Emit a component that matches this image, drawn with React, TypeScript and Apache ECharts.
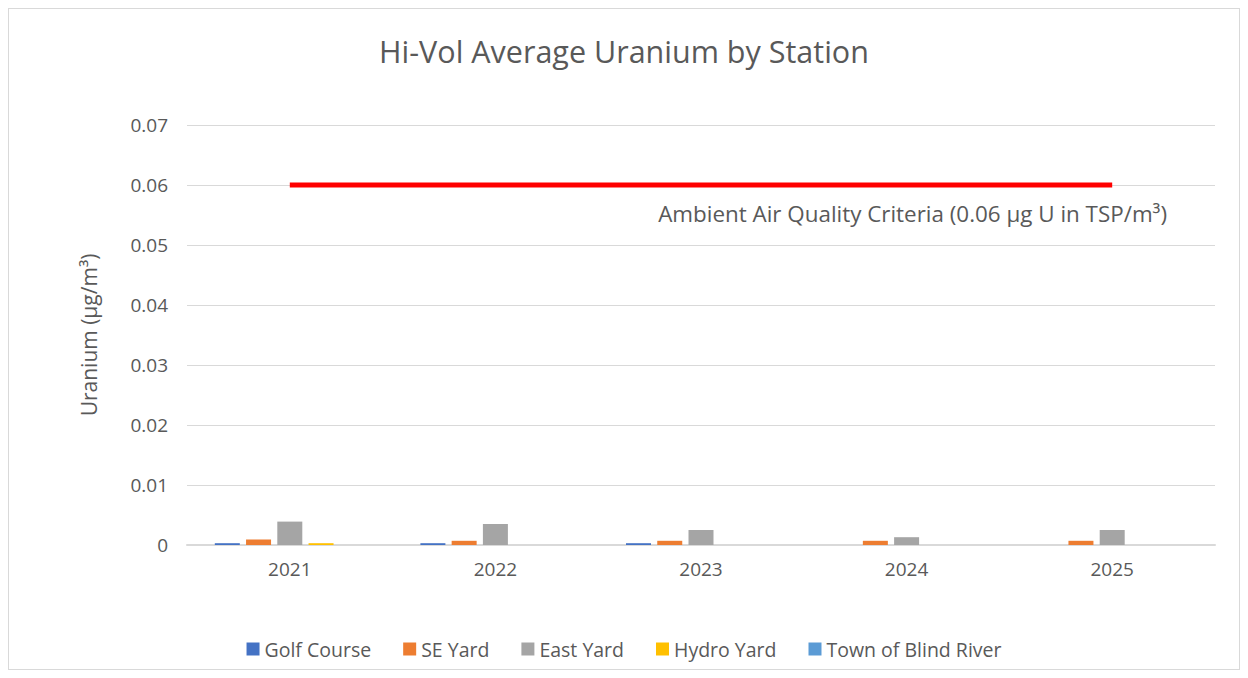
import React, { useEffect, useRef } from "react";
import * as echarts from "echarts";

const years = ["2021", "2022", "2023", "2024", "2025"];
const golfCourse = [0.0003, 0.0003, 0.0003, 0, 0];
const seYard = [0.0009, 0.0007, 0.0007, 0.0007, 0.0007];
const eastYard = [0.0039, 0.0035, 0.0025, 0.0013, 0.0025];
const hydroYard = [0.0003, 0, 0, 0, 0];
const townBlindRiver = [0, 0, 0, 0, 0];
const criteria = [0.06, 0.06, 0.06, 0.06, 0.06];
const yTicks = { min: 0, max: 0.07, interval: 0.01 };

const seriesDefs = [
  { name: "Golf Course", data: golfCourse, color: "#4472C4" },
  { name: "SE Yard", data: seYard, color: "#ED7D31" },
  { name: "East Yard", data: eastYard, color: "#A5A5A5" },
  { name: "Hydro Yard", data: hydroYard, color: "#FFC000" },
  { name: "Town of Blind River", data: townBlindRiver, color: "#5B9BD5" },
];

const FONT = "'Open Sans', Lato, sans-serif";
const TXT = "#595959";

export default function App() {
  const ref = useRef<HTMLDivElement>(null);
  useEffect(() => {
    if (!ref.current) return;
    const chart = echarts.init(ref.current, undefined, { renderer: "svg" });
    chart.setOption({
      animation: false,
      backgroundColor: "#ffffff",
      textStyle: { fontFamily: FONT },
      title: {
        text: "Hi-Vol Average Uranium by Station",
        left: "center",
        top: 21,
        textStyle: { fontFamily: FONT, fontSize: 30.5, fontWeight: "normal", color: TXT },
      },
      grid: { left: 178, right: 24, top: 116, bottom: 124, containLabel: false },
      legend: {
        data: seriesDefs.map((s) => s.name),
        bottom: 5,
        left: "center",
        itemWidth: 13,
        itemHeight: 13,
        itemGap: 32,
        icon: "rect",
        textStyle: { fontFamily: FONT, fontSize: 19.5, color: TXT },
      },
      xAxis: {
        type: "category",
        data: years,
        axisTick: { show: false },
        axisLine: { lineStyle: { color: "#d9d9d9", width: 2 } },
        axisLabel: { fontFamily: FONT, fontSize: 19, color: TXT, margin: 14 },
      },
      yAxis: {
        type: "value",
        min: yTicks.min,
        max: yTicks.max,
        interval: yTicks.interval,
        name: "Uranium (µg/m³)",
        nameLocation: "middle",
        nameGap: 88,
        nameTextStyle: { fontFamily: FONT, fontSize: 21, color: TXT },
        axisLine: { show: false },
        axisTick: { show: false },
        splitLine: { lineStyle: { color: "#d9d9d9", width: 1 } },
        axisLabel: {
          fontFamily: FONT,
          fontSize: 19,
          color: TXT,
          margin: 19,
          formatter: (v: number) => (v === 0 ? "0" : v.toFixed(2)),
        },
      },
      series: [
        ...seriesDefs.map((s) => ({
          name: s.name,
          type: "bar",
          data: s.data,
          barWidth: 25,
          barGap: "25%",
          itemStyle: { color: s.color },
        })),
        {
          name: "Criteria",
          type: "line",
          data: criteria,
          symbol: "none",
          lineStyle: { color: "#FF0000", width: 5 },
          itemStyle: { color: "#FF0000" },
          z: 5,
        },
      ],
      graphic: [
        {
          type: "text",
          right: 72,
          top: 193,
          style: {
            text: "Ambient Air Quality Criteria (0.06 µg U in TSP/m³)",
            fontFamily: FONT,
            fontSize: 22.4,
            fill: TXT,
          },
        },
      ],
    });
    return () => chart.dispose();
  }, []);
  return (
    <div
      ref={ref}
      style={{ width: 1232, height: 662, boxSizing: "border-box", border: "1px solid #d9d9d9" }}
    />
  );
}
